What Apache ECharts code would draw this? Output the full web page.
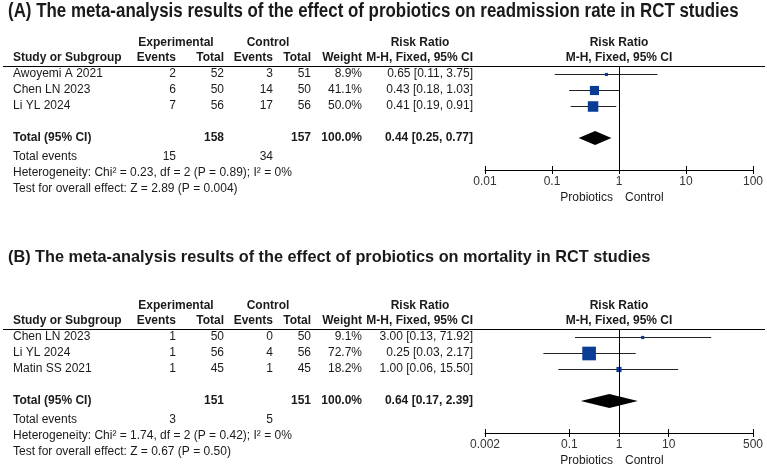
<!DOCTYPE html>
<html>
<head>
<meta charset="utf-8">
<script src="https://cdn.jsdelivr.net/npm/echarts@6/dist/echarts.min.js"></script>
<style>
  body { margin: 0; background: #fff; }
  #main { width: 767px; height: 467px; }
</style>
</head>
<body>
<div id="main"></div>
<script>
// panel A: readmission rate
var titleA = "(A) The meta-analysis results of the effect of probiotics on readmission rate in RCT studies";
var studiesA = ["Awoyemi A 2021", "Chen LN 2023", "Li YL 2024"];
var expEventsA = [2, 6, 7];
var expTotalA = [52, 50, 56];
var ctlEventsA = [3, 14, 17];
var ctlTotalA = [51, 50, 56];
var weightA = [8.9, 41.1, 50.0];
var rrA = [0.65, 0.43, 0.41];
var loA = [0.11, 0.18, 0.19];
var hiA = [3.75, 1.03, 0.91];
var pooledA = [0.44, 0.25, 0.77]; // est, lo, hi
var totalsA = [158, 157];
var totalEventsA = [15, 34];
var hetA = "Heterogeneity: Chi\u00b2 = 0.23, df = 2 (P = 0.89); I\u00b2 = 0%";
var testA = "Test for overall effect: Z = 2.89 (P = 0.004)";
var ticksA = [0.01, 0.1, 1, 10, 100];

// panel B: mortality
var titleB = "(B) The meta-analysis results of the effect of probiotics on mortality in RCT studies";
var studiesB = ["Chen LN 2023", "Li YL 2024", "Matin SS 2021"];
var expEventsB = [1, 1, 1];
var expTotalB = [50, 56, 45];
var ctlEventsB = [0, 4, 1];
var ctlTotalB = [50, 56, 45];
var weightB = [9.1, 72.7, 18.2];
var rrB = [3.00, 0.25, 1.00];
var loB = [0.13, 0.03, 0.06];
var hiB = [71.92, 2.17, 15.50];
var pooledB = [0.64, 0.17, 2.39];
var totalsB = [151, 151];
var totalEventsB = [3, 5];
var hetB = "Heterogeneity: Chi\u00b2 = 1.74, df = 2 (P = 0.42); I\u00b2 = 0%";
var testB = "Test for overall effect: Z = 0.67 (P = 0.50)";
var ticksB = [0.002, 0.1, 1, 10, 500];

var FONT = "Liberation Sans, Arial, sans-serif";
var TXT = "#1a1a1a";
var ROW_H = 16;
var TOTAL_ROW = 4;

var myChart = echarts.init(document.getElementById("main"));

function ciText(est, lo, hi) {
  return est.toFixed(2) + " [" + lo.toFixed(2) + ", " + hi.toFixed(2) + "]";
}

function txt(x, y, s, align, bold, size) {
  return {
    type: "text", x: x, y: y, silent: true,
    style: {
      text: s, align: align || "left", verticalAlign: "middle", fill: TXT,
      font: (bold ? "bold " : "") + (size || 12) + "px " + FONT
    }
  };
}

// table text for one panel, lineY = header rule
function tableGraphics(p, lineY) {
  var g = [];
  var hy1 = lineY - 23, hy2 = lineY - 8;
  g.push(txt(176, hy1, "Experimental", "center", true));
  g.push(txt(268, hy1, "Control", "center", true));
  g.push(txt(420, hy1, "Risk Ratio", "center", true));
  g.push(txt(619, hy1, "Risk Ratio", "center", true));
  g.push(txt(13, hy2, "Study or Subgroup", "left", true));
  g.push(txt(176, hy2, "Events", "right", true));
  g.push(txt(224, hy2, "Total", "right", true));
  g.push(txt(273, hy2, "Events", "right", true));
  g.push(txt(311, hy2, "Total", "right", true));
  g.push(txt(362, hy2, "Weight", "right", true));
  g.push(txt(473, hy2, "M-H, Fixed, 95% CI", "right", true));
  g.push(txt(619, hy2, "M-H, Fixed, 95% CI", "center", true));
  g.push({
    type: "line", silent: true,
    shape: { x1: 3, y1: lineY + 0.5, x2: 765, y2: lineY + 0.5 },
    style: { stroke: "#000", lineWidth: 1 }
  });
  p.studies.forEach(function (s, i) {
    var y = lineY + 8 + i * ROW_H;
    g.push(txt(13, y, s, "left"));
    g.push(txt(176, y, String(p.expEvents[i]), "right"));
    g.push(txt(224, y, String(p.expTotal[i]), "right"));
    g.push(txt(273, y, String(p.ctlEvents[i]), "right"));
    g.push(txt(311, y, String(p.ctlTotal[i]), "right"));
    g.push(txt(362, y, p.weight[i].toFixed(1) + "%", "right"));
    g.push(txt(473, y, ciText(p.rr[i], p.lo[i], p.hi[i]), "right"));
  });
  var ty = lineY + 8 + TOTAL_ROW * ROW_H;
  g.push(txt(13, ty, "Total (95% CI)", "left", true));
  g.push(txt(224, ty, String(p.totals[0]), "right", true));
  g.push(txt(311, ty, String(p.totals[1]), "right", true));
  g.push(txt(362, ty, "100.0%", "right", true));
  g.push(txt(473, ty, ciText(p.pooled[0], p.pooled[1], p.pooled[2]), "right", true));
  g.push(txt(13, lineY + 91, "Total events", "left"));
  g.push(txt(176, lineY + 91, String(p.totalEvents[0]), "right"));
  g.push(txt(273, lineY + 91, String(p.totalEvents[1]), "right"));
  g.push(txt(13, lineY + 107, p.het, "left"));
  g.push(txt(13, lineY + 123, p.test, "left"));
  g.push(txt(613, lineY + 132, "Probiotics", "right"));
  g.push(txt(625, lineY + 132, "Control", "left"));
  return g;
}

var panelA = {
  studies: studiesA, expEvents: expEventsA, expTotal: expTotalA, ctlEvents: ctlEventsA,
  ctlTotal: ctlTotalA, weight: weightA, rr: rrA, lo: loA, hi: hiA, pooled: pooledA,
  totals: totalsA, totalEvents: totalEventsA, het: hetA, test: testA
};
var panelB = {
  studies: studiesB, expEvents: expEventsB, expTotal: expTotalB, ctlEvents: ctlEventsB,
  ctlTotal: ctlTotalB, weight: weightB, rr: rrB, lo: loB, hi: hiB, pooled: pooledB,
  totals: totalsB, totalEvents: totalEventsB, het: hetB, test: testB
};

var LINE_A = 66, LINE_B = 329;

function studyData(p) {
  return p.studies.map(function (s, i) {
    return [p.lo[i], p.hi[i], p.rr[i], p.weight[i], i];
  });
}

function renderStudy(params, api) {
  var row = api.value(4);
  var a = api.coord([api.value(0), row]);
  var b = api.coord([api.value(1), row]);
  var c = api.coord([api.value(2), row]);
  var s = 0.68 * Math.pow(api.value(3), 0.7);
  var y = Math.round(a[1]) + 0.5;
  return {
    type: "group",
    children: [
      { type: "line", shape: { x1: a[0], y1: y, x2: b[0], y2: y }, style: { stroke: "#222", lineWidth: 1 } },
      { type: "rect", shape: { x: c[0] - s / 2, y: y - s / 2, width: s, height: s }, style: { fill: "#0a3c96" } }
    ]
  };
}

function renderDiamond(params, api) {
  var row = api.value(3);
  var a = api.coord([api.value(1), row]);
  var b = api.coord([api.value(2), row]);
  var c = api.coord([api.value(0), row]);
  var h = 7;
  return {
    type: "polygon",
    shape: { points: [[a[0], a[1]], [c[0], c[1] - h], [b[0], b[1]], [c[0], c[1] + h]] },
    style: { fill: "#000" }
  };
}

function xAxes(gi, ticks) {
  var fmt = function (v) { return String(v); };
  return [
    {
      type: "log", logBase: 10, gridIndex: gi, position: "bottom",
      min: ticks[0], max: ticks[ticks.length - 1],
      axisLine: { onZero: false, lineStyle: { color: "#000", width: 1 } },
      axisTick: { show: true, length: 4, lineStyle: { color: "#000" }, customValues: ticks },
      axisLabel: { customValues: ticks, formatter: fmt, color: "#333", fontSize: 12, fontFamily: FONT, margin: 6 },
      splitLine: { show: false }, minorTick: { show: false }
    },
    {
      type: "log", logBase: 10, gridIndex: gi, position: "bottom",
      min: ticks[0], max: ticks[ticks.length - 1],
      axisLine: { show: false, onZero: false },
      axisTick: { show: true, inside: true, length: 4, lineStyle: { color: "#000" }, customValues: ticks },
      axisLabel: { show: false }, splitLine: { show: false }
    }
  ];
}

function yAxis(gi) {
  return { type: "value", gridIndex: gi, min: -0.5, max: 6, inverse: true, show: false };
}

var graphics = [
  txt(8, 11, titleA, "left", true, 20),
  txt(8, 258, titleB, "left", true, 16.3)
].concat(tableGraphics(panelA, LINE_A), tableGraphics(panelB, LINE_B));
// panel A title uses a condensed face in the source
graphics[0].scaleX = 0.845;

var refLine = {
  symbol: "none", silent: true, label: { show: false },
  lineStyle: { color: "#000", type: "solid", width: 1 },
  data: [{ xAxis: 1 }]
};

myChart.setOption({
  animation: false,
  backgroundColor: "#fff",
  grid: [
    { left: 485, top: LINE_A, width: 268, height: 104 },
    { left: 485, top: LINE_B, width: 268, height: 104 }
  ],
  xAxis: xAxes(0, ticksA).concat(xAxes(1, ticksB)),
  yAxis: [yAxis(0), yAxis(1)],
  series: [
    {
      type: "custom", xAxisIndex: 0, yAxisIndex: 0, renderItem: renderStudy,
      encode: { x: [0, 1, 2], y: 4 }, data: studyData(panelA), markLine: refLine, z: 3
    },
    {
      type: "custom", xAxisIndex: 0, yAxisIndex: 0, renderItem: renderDiamond,
      encode: { x: [0, 1, 2], y: 3 }, data: [pooledA.concat([TOTAL_ROW])]
    },
    {
      type: "custom", xAxisIndex: 2, yAxisIndex: 1, renderItem: renderStudy,
      encode: { x: [0, 1, 2], y: 4 }, data: studyData(panelB), markLine: refLine, z: 3
    },
    {
      type: "custom", xAxisIndex: 2, yAxisIndex: 1, renderItem: renderDiamond,
      encode: { x: [0, 1, 2], y: 3 }, data: [pooledB.concat([TOTAL_ROW])]
    }
  ],
  graphic: graphics
});
</script>
</body>
</html>
